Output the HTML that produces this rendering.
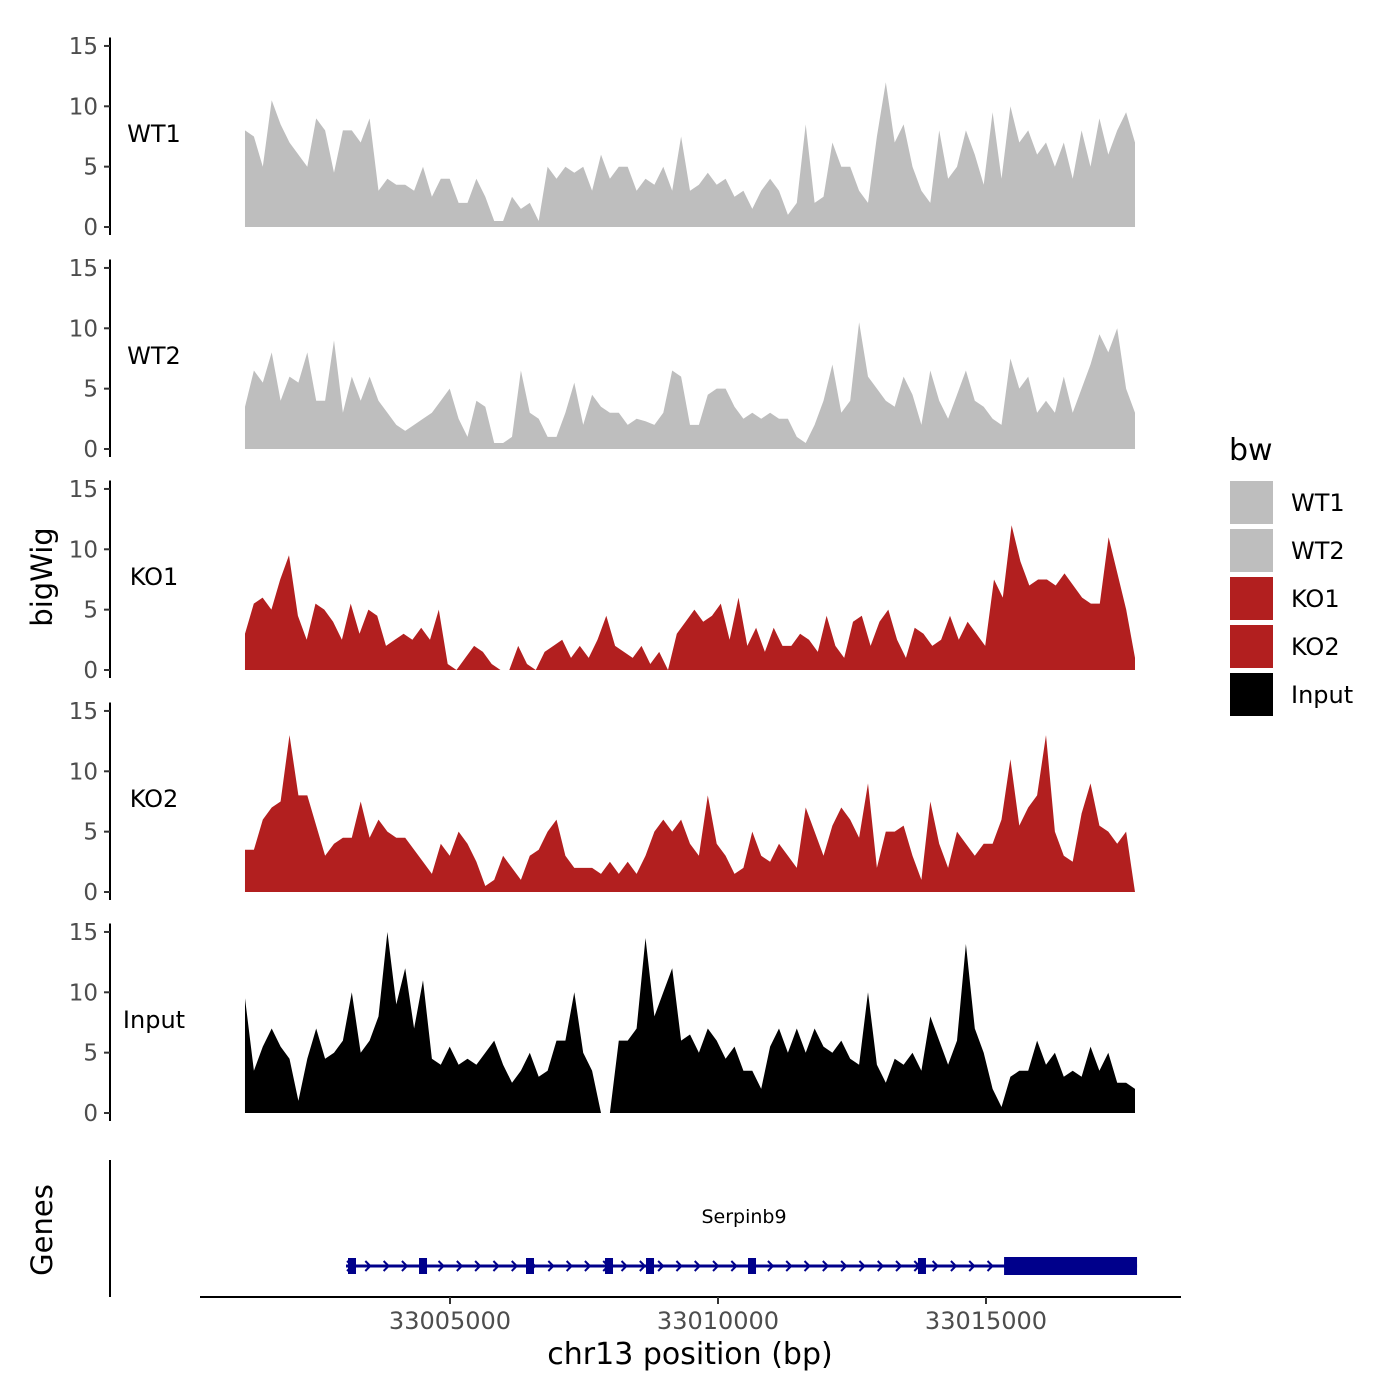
<!DOCTYPE html>
<html><head><meta charset="utf-8"><style>body{margin:0;background:#fff}svg{display:block;font-family:"DejaVu Sans","Liberation Sans",sans-serif}</style></head>
<body>
<svg id="chart" width="1400" height="1400" viewBox="0 0 1400 1400"></svg>
<script>
const trackNames = ["WT1","WT2","KO1","KO2","Input"];
const trackColors = ["#bebebe","#bebebe","#b21f1f","#b21f1f","#000000"];
const yTicks = [0,5,10,15];
const xTicks = [33005000,33010000,33015000];
const xTickLabels = ["33005000","33010000","33015000"];
const regionStart = 33001175, regionEnd = 33017780;
const wt1 = [8,7.5,5,10.5,8.5,7,6,5,9,8,4.5,8,8,7,9,3,4,3.5,3.5,3,5,2.5,4,4,2,2,4,2.5,0.5,0.5,2.5,1.5,2,0.5,5,4,5,4.5,5,3,6,4,5,5,3,4,3.5,5,3,7.5,3,3.5,4.5,3.5,4,2.5,3,1.5,3,4,3,1,2,8.5,2,2.5,7,5,5,3,2,7.5,12,7,8.5,5,3,2,8,4,5,8,6,3.5,9.5,4,10,7,8,6,7,5,7,4,8,5,9,6,8,9.5,7];
const wt2 = [3.5,6.5,5.5,8,4,6,5.5,8,4,4,9,3,6,4,6,4,3,2,1.5,2,2.5,3,4,5,2.5,1,4,3.5,0.5,0.5,1,6.5,3,2.5,1,1,3,5.5,2,4.5,3.5,3,3,2,2.5,2.3,2,3,6.5,6,2,2,4.5,5,5,3.5,2.5,3,2.5,3,2.5,2.5,1,0.5,2,4,7,3,4,10.5,6,5,4,3.5,6,4.5,2,6.5,4,2.5,4.5,6.5,4,3.5,2.5,2,7.5,5,6,3,4,3,6,3,5,7,9.5,8,10,5,3];
const ko1 = [3,5.5,6,5,7.5,9.5,4.5,2.5,5.5,5,4,2.5,5.5,3,5,4.5,2,2.5,3,2.5,3.5,2.5,5,0.5,0,1,2,1.5,0.5,0,0,2,0.5,0,1.5,2,2.5,1,2,1,2.5,4.5,2,1.5,1,2,0.5,1.5,0,3,4,5,4,4.5,5.5,2.5,6,2,3.5,1.5,3.5,2,2,3,2.5,1.5,4.5,2,1,4,4.5,2,4,5,2.5,1,3.5,3,2,2.5,4.5,2.5,4,3,2,7.5,6,12,9,7,7.5,7.5,7,8,7,6,5.5,5.5,11,8,5,1];
const ko2 = [3.5,3.5,6,7,7.5,13,8,8,5.5,3,4,4.5,4.5,7.5,4.5,6,5,4.5,4.5,3.5,2.5,1.5,4,3,5,4,2.5,0.5,1,3,2,1,3,3.5,5,6,3,2,2,2,1.5,2.5,1.5,2.5,1.5,3,5,6,5,6,4,3,8,4,3,1.5,2,5,3,2.5,4,3,2,7,5,3,5.5,7,6,4.5,9,2,5,5,5.5,3,1,7.5,4,2,5,4,3,4,4,6,11,5.5,7,8,13,5,3,2.5,6.5,9,5.5,5,4,5,0];
const inputVals = [9.5,3.5,5.5,7,5.5,4.5,1,4.5,7,4.5,5,6,10,5,6,8,15,9,12,7,11,4.5,4,5.5,4,4.5,4,5,6,4,2.5,3.5,5,3,3.5,6,6,10,5,3.5,0,0,6,6,7,14.5,8,10,12,6,6.5,5,7,6,4.5,5.5,3.5,3.5,2,5.5,7,5,7,5,7,5.5,5,6,4.5,4,10,4,2.5,4.5,4,5,3.5,8,6,4,6,14,7,5,2,0.5,3,3.5,3.5,6,4,5,3,3.5,3,5.5,3.5,5,2.5,2.5,2];
const series = [wt1,wt2,ko1,ko2,inputVals];
const exonStarts = [33003097,33004422,33006418,33007892,33008657,33010560,33013731];
const utrStart = 33015337, utrEnd = 33017818, geneStart = 33003060;

const svg = document.getElementById('chart');
const NS = 'http://www.w3.org/2000/svg';
function mk(tag, attrs, parent){const e=document.createElementNS(NS,tag);for(const k in attrs)e.setAttribute(k,attrs[k]);(parent||svg).appendChild(e);return e;}
const xPx = bp => 450 + (bp-33005000)*268/5000;
const baselines = [227,449,670,892,1113];
const yPx = (v,t) => baselines[t] - v*12.07;

series.forEach((vals,t)=>{
  const g = mk('g',{});
  
  
  const n = vals.length;
  let d = 'M'+xPx(regionStart)+','+baselines[t];
  vals.forEach((v,i)=>{const bp = regionStart + (regionEnd-regionStart)*i/(n-1); d += ' L'+xPx(bp).toFixed(1)+','+yPx(v,t).toFixed(1);});
  d += ' L'+xPx(regionEnd)+','+baselines[t]+' Z';
  const p = mk('path',{d:d,fill:trackColors[t]},g);
  
  
  const ax = mk('line',{x1:110,x2:110,y1:yPx(15.7,t),y2:baselines[t]+8,stroke:'#000','stroke-width':2},g);
  
  
  yTicks.forEach(v=>{
    mk('line',{x1:104,x2:110,y1:yPx(v,t),y2:yPx(v,t),stroke:'#333','stroke-width':2},g);
    const tx = mk('text',{x:98,y:yPx(v,t)+8,'text-anchor':'end','font-size':23,fill:'#4d4d4d'},g);
    tx.textContent = v;
    
    
  });
  const lb = mk('text',{x:154,y:baselines[t]-85,'text-anchor':'middle','font-size':24,fill:'#000'},g);
  lb.textContent = trackNames[t];
  
  
});

const yt = mk('text',{x:0,y:0,transform:'translate(52,577) rotate(-90)','text-anchor':'middle','font-size':29,fill:'#000'});
yt.textContent='bigWig';


const gt = mk('text',{x:0,y:0,transform:'translate(52,1230) rotate(-90)','text-anchor':'middle','font-size':29,fill:'#000'});
gt.textContent='Genes';



const gg = mk('g',{});


mk('line',{x1:110,x2:110,y1:1160,y2:1297,stroke:'#000','stroke-width':2},gg);
mk('line',{x1:200,x2:1181,y1:1297,y2:1297,stroke:'#000','stroke-width':2},gg);
const gy = 1266, blue = '#00008b';
mk('line',{x1:xPx(geneStart),x2:xPx(utrEnd),y1:gy,y2:gy,stroke:blue,'stroke-width':3},gg);
for(let x=xPx(geneStart)+4; x<xPx(utrStart); x+=18.3){
  mk('polyline',{points:(x-3)+','+(gy-5)+' '+(x+2)+','+gy+' '+(x-3)+','+(gy+5),fill:'none',stroke:blue,'stroke-width':2},gg);
}
exonStarts.forEach(s=>{
  const r = mk('rect',{x:xPx(s),y:gy-8,width:8,height:16,fill:blue},gg);
  
  
});
const utr = mk('rect',{x:xPx(utrStart),y:gy-9,width:xPx(utrEnd)-xPx(utrStart),height:18,fill:blue},gg);


const gl = mk('text',{x:744,y:1223,'text-anchor':'middle','font-size':19,fill:'#000'},gg);
gl.textContent='Serpinb9';



xTicks.forEach((bp,i)=>{
  mk('line',{x1:xPx(bp),x2:xPx(bp),y1:1297,y2:1304,stroke:'#333','stroke-width':2});
  const t = mk('text',{x:xPx(bp),y:1329,'text-anchor':'middle','font-size':24,fill:'#4d4d4d'});
  t.textContent = xTickLabels[i];
  
  
});
const xt = mk('text',{x:690,y:1364,'text-anchor':'middle','font-size':30,fill:'#000'});
xt.textContent='chr13 position (bp)';



const lg = mk('g',{});


const lt = mk('text',{x:1229,y:460,'font-size':30,fill:'#000'},lg);
lt.textContent='bw';
trackNames.forEach((nm,i)=>{
  const y0 = 481 + i*48;
  const r = mk('rect',{x:1230,y:y0,width:43,height:43,fill:trackColors[i]},lg);
  
  
  const t = mk('text',{x:1291,y:y0+30,'font-size':24,fill:'#000'},lg);
  t.textContent = nm;
  
  
});
</script>
</body></html>
